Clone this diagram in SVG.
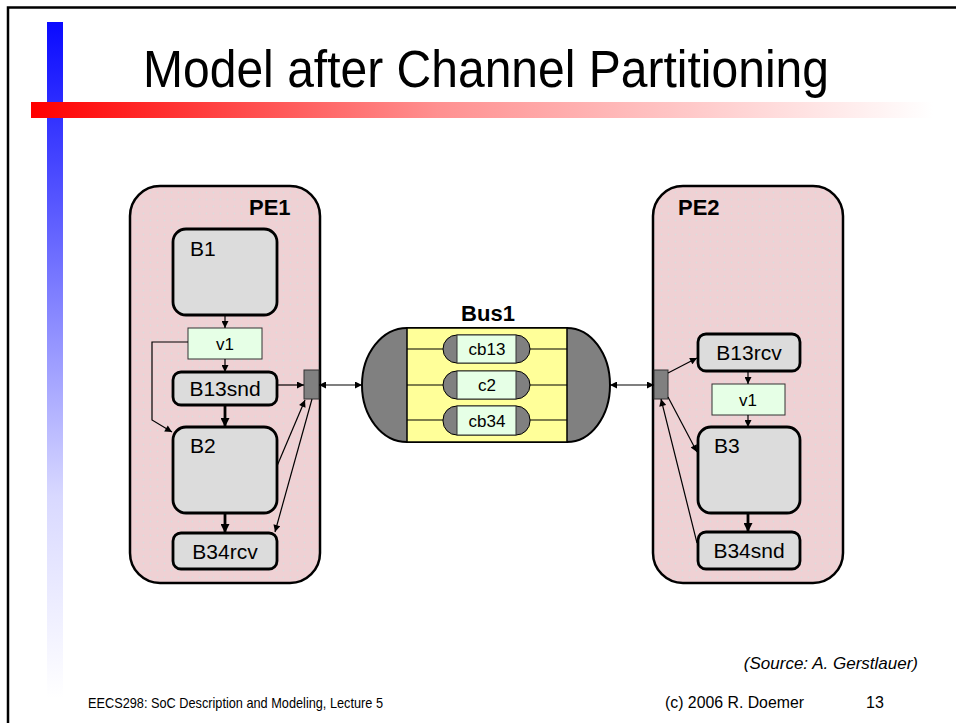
<svg xmlns="http://www.w3.org/2000/svg" width="956" height="723" viewBox="0 0 956 723">
<defs>
  <linearGradient id="gBlue" x1="0" y1="0" x2="0" y2="1">
    <stop offset="0" stop-color="#0a0aff"/>
    <stop offset="0.3" stop-color="#6060ff"/>
    <stop offset="0.7" stop-color="#d8d8ff"/>
    <stop offset="1" stop-color="#ffffff"/>
  </linearGradient>
  <linearGradient id="gRed" x1="0" y1="0" x2="1" y2="0">
    <stop offset="0" stop-color="#ff0000"/>
    <stop offset="0.45" stop-color="#ff9090"/>
    <stop offset="1" stop-color="#ffffff"/>
  </linearGradient>
  <pattern id="pe" width="7" height="7" patternUnits="userSpaceOnUse">
    <rect width="7" height="7" fill="#efd1d4"/>
    <circle cx="3.5" cy="3.5" r="0.9" fill="#dcdcdc"/>
  </pattern>
  <marker id="a" viewBox="0 0 10 10" refX="10" refY="5" markerWidth="8" markerHeight="7" markerUnits="userSpaceOnUse" orient="auto-start-reverse">
    <path d="M0,0 L10,5 L0,10 z" fill="#000"/>
  </marker>
  <marker id="at" viewBox="0 0 10 10" refX="10" refY="5" markerWidth="10" markerHeight="9" markerUnits="userSpaceOnUse" orient="auto">
    <path d="M0,0 L10,5 L0,10 z" fill="#000"/>
  </marker>
</defs>
<style>
  text { font-family: "Liberation Sans", Arial, sans-serif; fill: #000; }
  .pe { fill: url(#pe); stroke: #000; stroke-width: 2.5; }
  .blk { fill: #dcdcdc; stroke: #000; stroke-width: 2.8; }
  .var { fill: #e6ffe6; stroke: #333; stroke-width: 1; }
  .port { fill: #808080; stroke: #333; stroke-width: 1; }
  .lbl { font-size: 21px; }
  .ctr { text-anchor: middle; }
  .bold { font-weight: bold; font-size: 22px; }
  .sm { font-size: 17px; }
  .thin { fill: none; stroke: #000; stroke-width: 1.2; marker-end: url(#a); }
  .thick { fill: none; stroke: #000; stroke-width: 2.8; marker-end: url(#at); }
  .dbl { fill: none; stroke: #000; stroke-width: 1.2; marker-start: url(#a); marker-end: url(#a); }
  .ln { fill: none; stroke: #000; stroke-width: 1.2; }
  .foot { font-size: 15px; }
</style>

<rect width="956" height="723" fill="#fff"/>
<!-- slide frame -->
<path d="M8,730 V7.5 H960" fill="none" stroke="#000" stroke-width="2.5"/>
<rect x="47" y="22" width="16" height="676" fill="url(#gBlue)"/>
<rect x="31" y="102" width="902" height="16" fill="url(#gRed)"/>

<text x="143" y="87" font-size="51" textLength="686" lengthAdjust="spacingAndGlyphs">Model after Channel Partitioning</text>

<g id="PE1">
  <rect class="pe" x="130" y="186" width="190" height="397" rx="30"/>
  <text class="bold" x="249" y="215">PE1</text>
</g>
<g id="B1">
  <rect class="blk" x="173" y="229" width="104" height="86" rx="13"/>
  <text class="lbl" x="190" y="256">B1</text>
</g>
<g id="v1a">
  <rect class="var" x="188" y="328" width="74" height="31"/>
  <text class="sm ctr" x="225" y="350">v1</text>
</g>
<g id="B13snd">
  <rect class="blk" x="173" y="372" width="104" height="33" rx="8"/>
  <text class="lbl ctr" x="225" y="396">B13snd</text>
</g>
<g id="B2">
  <rect class="blk" x="173" y="427" width="104" height="86" rx="13"/>
  <text class="lbl" x="190" y="453">B2</text>
</g>
<g id="B34rcv">
  <rect class="blk" x="173" y="533" width="104" height="36" rx="8"/>
  <text class="lbl ctr" x="225" y="559">B34rcv</text>
</g>
<g id="port1">
  <rect class="port" x="304" y="370" width="15" height="29"/>
</g>

<g id="Bus1">
  <text class="bold ctr" x="488" y="321">Bus1</text>
  <path d="M407,328 H567 A43,57 0 0 1 567,442 H407 A45,57 0 0 1 407,328 Z" fill="#808080" stroke="#000" stroke-width="2"/>
  <rect x="407" y="328" width="160" height="114" fill="#ffff99" stroke="#000" stroke-width="1.5"/>
</g>
<g id="cb13">
  <path class="ln" d="M407,349 H443 M530,349 H567"/>
  <rect x="443" y="335" width="87" height="28" rx="14" fill="#808080" stroke="#000" stroke-width="1"/>
  <rect class="var" x="457" y="335" width="59" height="28"/>
  <text class="sm ctr" x="487" y="355">cb13</text>
</g>
<g id="c2">
  <path class="ln" d="M407,385 H443 M530,385 H567"/>
  <rect x="443" y="371" width="87" height="28" rx="14" fill="#808080" stroke="#000" stroke-width="1"/>
  <rect class="var" x="457" y="371" width="59" height="28"/>
  <text class="sm ctr" x="487" y="391">c2</text>
</g>
<g id="cb34">
  <path class="ln" d="M407,420 H443 M530,420 H567"/>
  <rect x="443" y="406" width="87" height="29" rx="14" fill="#808080" stroke="#000" stroke-width="1"/>
  <rect class="var" x="457" y="406" width="59" height="29"/>
  <text class="sm ctr" x="487" y="427">cb34</text>
</g>

<g id="PE2">
  <rect class="pe" x="653" y="186" width="190" height="397" rx="30"/>
  <text class="bold" x="678" y="215">PE2</text>
</g>
<g id="B13rcv">
  <rect class="blk" x="698" y="334" width="102" height="37" rx="8"/>
  <text class="lbl ctr" x="749" y="360">B13rcv</text>
</g>
<g id="v1b">
  <rect class="var" x="712" y="384" width="73" height="31"/>
  <text class="sm ctr" x="748" y="406">v1</text>
</g>
<g id="B3">
  <rect class="blk" x="698" y="427" width="102" height="86" rx="13"/>
  <text class="lbl" x="714" y="453">B3</text>
</g>
<g id="B34snd">
  <rect class="blk" x="698" y="532" width="102" height="37" rx="8"/>
  <text class="lbl ctr" x="749" y="558">B34snd</text>
</g>
<g id="port2">
  <rect class="port" x="654" y="370" width="14" height="29"/>
</g>

<g id="connectors">
  <path class="thin" d="M225,315 V328"/>
  <path class="thin" d="M225,359 V372"/>
  <path class="thick" d="M225,405 V427"/>
  <path class="thick" d="M225,513 V533"/>
  <path class="thin" d="M188,342 H152 V420 L172,432"/>
  <path class="thin" d="M277,385 H304"/>
  <path class="thin" d="M277,466 L305,400"/>
  <path class="thin" d="M312,399 L275,532"/>
  <path class="dbl" d="M319,385 H362"/>
  <path class="dbl" d="M610,385 H654"/>
  <path class="thin" d="M668,373 L697,358"/>
  <path class="thin" d="M748,371 V384"/>
  <path class="thin" d="M748,415 V427"/>
  <path class="thick" d="M748,513 V532"/>
  <path class="thin" d="M668,397 L697,452"/>
  <path class="thin" d="M697,543 L661,399"/>
</g>

<text x="918" y="669" font-size="17" font-style="italic" text-anchor="end">(Source: A. Gerstlauer)</text>
<text class="foot" x="88" y="708" textLength="295" lengthAdjust="spacingAndGlyphs">EECS298: SoC Description and Modeling, Lecture 5</text>
<text x="665" y="708" font-size="16" textLength="139" lengthAdjust="spacingAndGlyphs">(c) 2006 R. Doemer</text>
<text x="866" y="708" font-size="16">13</text>
</svg>
